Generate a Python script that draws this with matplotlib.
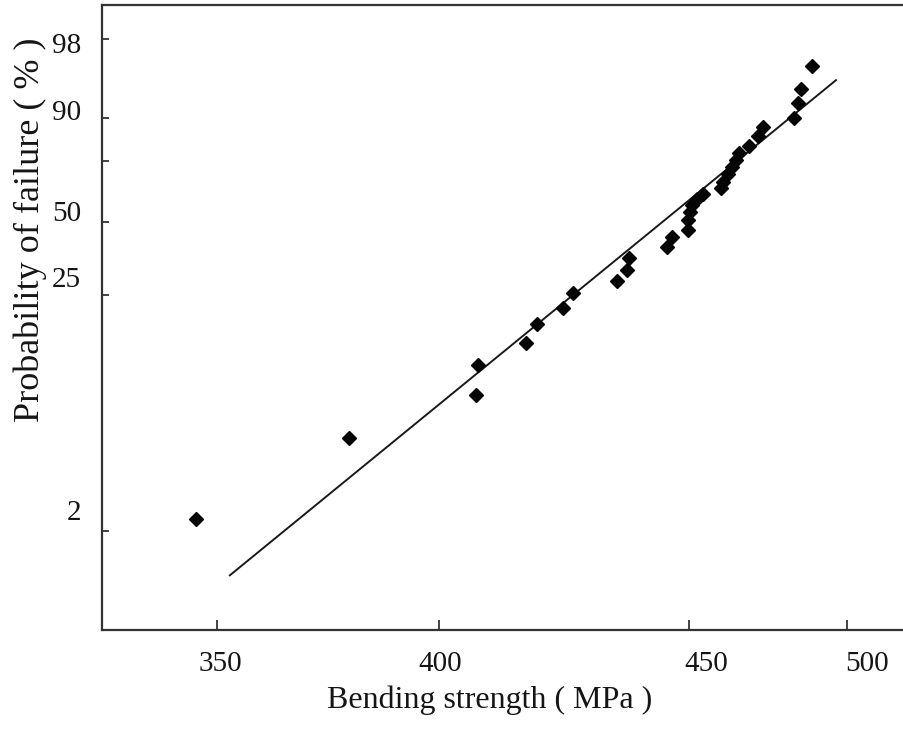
import numpy as np
import matplotlib
matplotlib.use("Agg")
import matplotlib.pyplot as plt
from matplotlib.ticker import FixedLocator, FixedFormatter, NullFormatter

# ---------------- data ----------------
strength = [345.2, 379.6, 407.3, 407.7, 417.3, 419.5, 424.7, 426.7,
            435.5, 437.5, 437.9, 445.5, 446.5, 449.7, 449.7, 450.2,
            450.8, 452.4, 454.3, 460.0, 460.6, 462.2, 463.4, 464.7,
            465.7, 468.8, 471.7, 473.3, 483.1, 484.3, 485.3, 488.8]
failure_prob = [2.29, 5.59, 8.91, 12.26, 15.43, 18.75, 22.01, 25.52,
                28.86, 32.22, 36.18, 40.13, 43.93, 46.71, 50.79, 54.0,
                56.87, 59.35, 61.43, 63.94, 66.45, 69.76, 72.61, 75.41,
                78.21, 80.88, 84.47, 87.39, 90.0, 92.16, 93.90, 96.18]
fit_strength = [352.8, 496.4]
fit_prob = [1.22, 94.88]

x_ticks = [350, 400, 450, 500]
x_tick_labels = ["350", "400", "450", "500"]
x_label_at = [350.6, 400.1, 455.2, 506.2]

y_ticks = [2, 25, 50, 75, 90, 98]
y_tick_labels = ["2", "25", "50", "90", "98"]
y_label_at = [2.53, 30.05, 54.41, 91.19, 97.78]

# ---------------- scales of the original (irregular) axes ----------------
X_ANCH = np.array([350.0, 400.0, 450.0, 500.0])
X_POS = np.array([217.5, 439.5, 689.5, 847.5])
Y_ANCH_F = np.array([2.0, 25.0, 50.0, 75.0, 90.0, 98.0])
Y_POS = -np.array([531.0, 295.0, 222.0, 161.0, 118.0, 39.0])


def _pw(v, xs, ys):
    v = np.asarray(v, dtype=float)
    shape = v.shape
    v = np.atleast_1d(v).ravel()
    out = np.interp(v, xs, ys)
    lo = v < xs[0]
    hi = v > xs[-1]
    out[lo] = ys[0] + (v[lo] - xs[0]) * (ys[1] - ys[0]) / (xs[1] - xs[0])
    out[hi] = ys[-1] + (v[hi] - xs[-1]) * (ys[-1] - ys[-2]) / (xs[-1] - xs[-2])
    return out.reshape(shape)


def weib(F):
    F = np.clip(np.asarray(F, dtype=float), 1e-6, 100 - 1e-9) / 100.0
    return np.log(-np.log(1 - F))


W_ANCH = weib(Y_ANCH_F)


def x_fwd(v):
    return _pw(v, X_ANCH, X_POS)


def x_inv(p):
    return _pw(p, X_POS, X_ANCH)


def y_fwd(F):
    return _pw(weib(F), W_ANCH, Y_POS)


def y_inv(p):
    w = _pw(p, Y_POS, W_ANCH)
    return 100.0 * (1 - np.exp(-np.exp(w)))


# ---------------- figure ----------------
plt.rcParams["font.family"] = ["Liberation Serif", "DejaVu Serif"]

fig = plt.figure(figsize=(9.04, 7.30), dpi=100)
ax = fig.add_axes([102 / 904, 1 - 630 / 730, (904 - 102) / 904, 625 / 730])

ax.set_xscale("function", functions=(x_fwd, x_inv))
ax.set_yscale("function", functions=(y_fwd, y_inv))

ax.plot(fit_strength, fit_prob, color="#1a1a1a", lw=1.4, zorder=2)
ax.plot(strength, failure_prob, linestyle="none", marker="D", ms=7.3,
        color="#050505", mec="#050505", zorder=3)

ax.set_xlim(324.0, 517.9)
ax.set_ylim(0.661, 99.27)

# real tick marks (major, no labels)
ax.xaxis.set_major_locator(FixedLocator(x_ticks))
ax.xaxis.set_major_formatter(NullFormatter())
ax.yaxis.set_major_locator(FixedLocator(y_ticks))
ax.yaxis.set_major_formatter(NullFormatter())
# labels as they sit in the original (minor, no marks)
ax.xaxis.set_minor_locator(FixedLocator(x_label_at))
ax.xaxis.set_minor_formatter(FixedFormatter(x_tick_labels))
ax.yaxis.set_minor_locator(FixedLocator(y_label_at))
ax.yaxis.set_minor_formatter(FixedFormatter(y_tick_labels))

ax.tick_params(axis="x", which="major", direction="in", length=7.5,
               width=1.2, color="#222222")
ax.tick_params(axis="y", which="major", direction="in", length=5,
               width=1.2, color="#222222")
ax.tick_params(axis="both", which="minor", length=0, labelsize=21,
               labelcolor="#151515", pad=15)

for side in ("left", "bottom", "top"):
    ax.spines[side].set_linewidth(1.6)
    ax.spines[side].set_color("#333333")
ax.spines["right"].set_visible(False)

ax.set_xlabel("Bending strength ( MPa )", fontsize=23, color="#151515",
              va="center", ha="center")
ax.xaxis.set_label_coords((490 - 102) / 802, (630 - 700) / 625)
ax.set_ylabel("Probability of failure ( % )", fontsize=26, color="#151515",
              va="center", ha="center")
ax.yaxis.set_label_coords((30 - 102) / 802, (630 - 230) / 625)

fig.savefig("out.png", dpi=100)
